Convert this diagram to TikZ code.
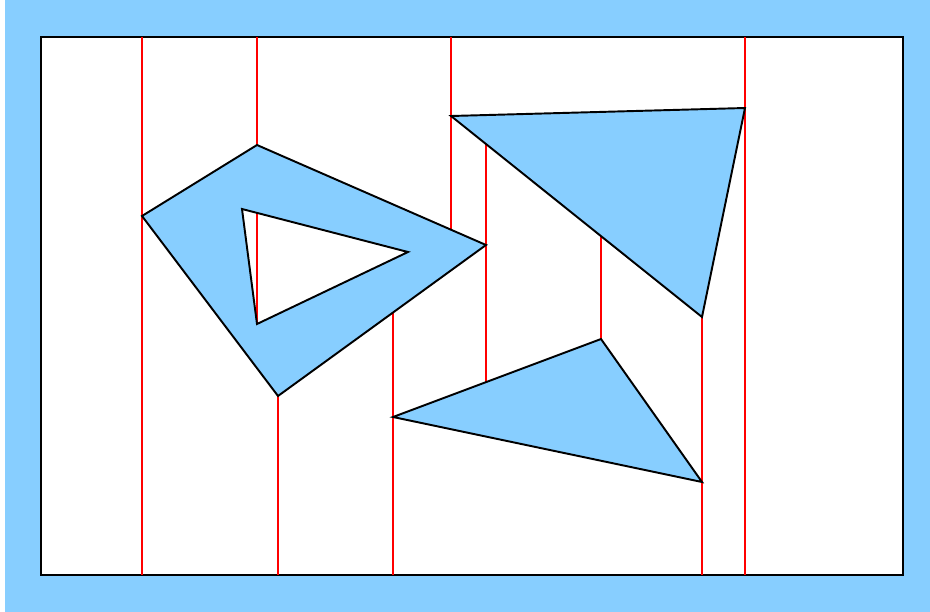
\documentclass[tikz,border=0pt]{standalone}
\definecolor{skyblue}{RGB}{135,206,255}
\begin{document}
\begin{tikzpicture}[x=0.02cm, y=-0.02cm,
    outline/.style={draw=black, line width=1.1pt, line join=miter},
    sweep/.style={red, line width=0.6pt}]
    \useasboundingbox (0,0) rectangle (930,612);
    % Hintergrund und Rahmen
    \fill[skyblue] (5,0) rectangle (930,612);
    \draw[outline, fill=white] (41,37) rectangle (903,575);
    \coordinate (top) at (0,37);
    \coordinate (bot) at (0,575);

    % Viereck mit Loch
    \coordinate (P1) at (142,216); \coordinate (P2) at (257,145);
    \coordinate (P3) at (486,245); \coordinate (P4) at (278,396);
    \coordinate (H1) at (242,209); \coordinate (H2) at (408,252);
    \coordinate (H3) at (257,324);
    % Dreiecke
    \coordinate (Q1) at (451,116); \coordinate (Q2) at (745,108);
    \coordinate (Q3) at (702,317);
    \coordinate (R1) at (393,417); \coordinate (R2) at (601,339);
    \coordinate (R3) at (702,482);
    % Schnittpunkte auf Kanten
    \coordinate (eH) at (257,213); \coordinate (eCD) at (393,313);
    \coordinate (eBC) at (451,230); \coordinate (eQa) at (486,144);
    \coordinate (eRa) at (486,382); \coordinate (eQb) at (601,236);

    % Senkrechte Linien
    \draw[sweep] (P1 |- top) -- (P1 |- bot);
    \draw[sweep] (P2 |- top) -- (P2);
    \draw[sweep] (eH) -- (H3);
    \draw[sweep] (P4) -- (P4 |- bot);
    \draw[sweep] (eCD) -- (R1 |- bot);
    \draw[sweep] (Q1 |- top) -- (eBC);
    \draw[sweep] (eQa) -- (eRa);
    \draw[sweep] (eQb) -- (R2);
    \draw[sweep] (Q3) -- (Q3 |- bot);
    \draw[sweep] (Q2 |- top) -- (Q2 |- bot);

    % Polygone
    \draw[outline, fill=skyblue, even odd rule]
        (P1) -- (P2) -- (P3) -- (P4) -- cycle
        (H1) -- (H2) -- (H3) -- cycle;
    \draw[outline, fill=skyblue] (Q1) -- (Q2) -- (Q3) -- cycle;
    \draw[outline, fill=skyblue] (R1) -- (R2) -- (R3) -- cycle;
\end{tikzpicture}
\end{document}
